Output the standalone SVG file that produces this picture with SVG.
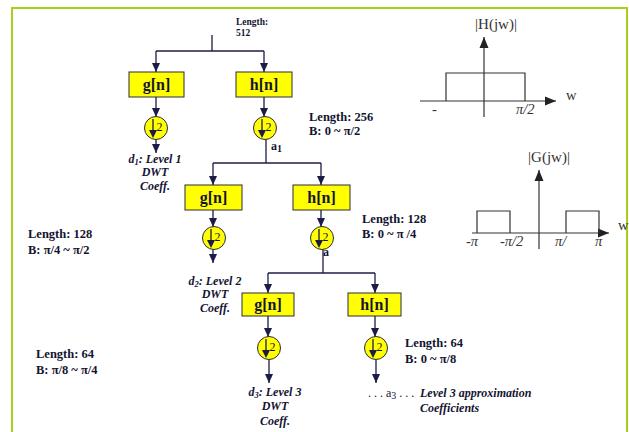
<svg xmlns="http://www.w3.org/2000/svg" width="629" height="432" viewBox="0 0 629 432">
<style>
.ln{stroke:#1c1c48;stroke-width:1.3;fill:none}
.ar{stroke:#1c1c48;stroke-width:1.3;fill:none;marker-end:url(#ah)}
.box{fill:#ffff00;stroke:#2a2a40;stroke-width:1}
.cir{fill:#ffff00;stroke:#2a2a40;stroke-width:1}
.bt{font-family:"Liberation Serif",serif;font-weight:bold;font-size:16px;fill:#141432;text-anchor:middle}
.two{font-family:"Liberation Serif",serif;font-size:12px;fill:#141432}
.lab{font-family:"Liberation Serif",serif;font-weight:bold;font-size:12.5px;fill:#141432}
.it{font-family:"Liberation Serif",serif;font-weight:bold;font-style:italic;font-size:12px;fill:#141432}
.g{font-family:"Liberation Serif",serif;font-size:14.5px;fill:#333}
.ax{stroke:#333;stroke-width:1.2;fill:none}
</style>
<defs>
<marker id="ah" markerUnits="userSpaceOnUse" markerWidth="10" markerHeight="10" viewBox="0 0 10 10" refX="9" refY="5" orient="auto">
<path d="M0,1 L9,5 L0,9 Z" fill="#1c1c48"/>
</marker>
<marker id="ax" markerUnits="userSpaceOnUse" markerWidth="12" markerHeight="10" viewBox="0 0 12 10" refX="11" refY="5" orient="auto">
<path d="M0,0.5 L11,5 L0,9.5 Z" fill="#222"/>
</marker>
<symbol id="ds" overflow="visible">
<circle class="cir" cx="0" cy="0" r="11.5"/>
<line class="ln" x1="-3" y1="-9" x2="-3" y2="3"/>
<path d="M-7,2 L1,2 L-3,10 Z" fill="#1c1c48"/>
<text class="two" x="0.5" y="3">2</text>
</symbol>
</defs>
<rect x="12" y="8" width="615" height="440" fill="none" stroke="#a8cf1e" stroke-width="2"/>

<g id="connectors">
<line class="ln" x1="212" y1="35" x2="212" y2="51"/>
<line class="ln" x1="156" y1="51" x2="264" y2="51"/>
<line class="ar" x1="156" y1="51" x2="156" y2="72"/>
<line class="ar" x1="264" y1="51" x2="264" y2="72"/>
<line class="ar" x1="156" y1="97" x2="156" y2="117"/>
<line class="ar" x1="264" y1="97" x2="264" y2="117"/>
<line class="ar" x1="156" y1="139" x2="156" y2="153"/>
<line class="ln" x1="266" y1="139" x2="266" y2="163"/>
<line class="ln" x1="213" y1="163" x2="321" y2="163"/>
<line class="ar" x1="213" y1="163" x2="213" y2="185"/>
<line class="ar" x1="321" y1="163" x2="321" y2="185"/>
<line class="ar" x1="213" y1="210" x2="213" y2="227"/>
<line class="ar" x1="321" y1="210" x2="321" y2="227"/>
<line class="ar" x1="213" y1="249" x2="213" y2="263"/>
<line class="ln" x1="323" y1="249" x2="323" y2="273"/>
<line class="ln" x1="268" y1="273" x2="375" y2="273"/>
<line class="ar" x1="268" y1="273" x2="268" y2="293"/>
<line class="ar" x1="375" y1="273" x2="375" y2="293"/>
<line class="ar" x1="268" y1="316" x2="268" y2="337"/>
<line class="ar" x1="375" y1="316" x2="375" y2="337"/>
<line class="ar" x1="269" y1="359" x2="269" y2="383"/>
<line class="ar" x1="376" y1="359" x2="376" y2="383"/>
</g>

<g id="g1"><rect class="box" x="129" y="72" width="55" height="25"/><text class="bt" x="156.5" y="90">g[n]</text></g>
<g id="h1"><rect class="box" x="236" y="72" width="56" height="25"/><text class="bt" x="264" y="90">h[n]</text></g>
<g id="dsg1"><use href="#ds" x="156" y="128"/></g>
<g id="dsh1"><use href="#ds" x="265" y="128"/></g>
<g id="g2"><rect class="box" x="185" y="185" width="57" height="25"/><text class="bt" x="213.5" y="203">g[n]</text></g>
<g id="h2"><rect class="box" x="293" y="185" width="57" height="25"/><text class="bt" x="321.5" y="203">h[n]</text></g>
<g id="dsg2"><use href="#ds" x="214" y="238"/></g>
<g id="dsh2"><use href="#ds" x="322" y="238"/></g>
<g id="g3"><rect class="box" x="242" y="293" width="52" height="23"/><text class="bt" x="268" y="310">g[n]</text></g>
<g id="h3"><rect class="box" x="348" y="293" width="53" height="23"/><text class="bt" x="374.5" y="310">h[n]</text></g>
<g id="dsg3"><use href="#ds" x="269" y="348"/></g>
<g id="dsh3"><use href="#ds" x="376" y="348"/></g>

<g id="labels">
<text class="lab" style="font-size:9.5px" x="236" y="25">Length:</text>
<text class="lab" style="font-size:9.5px" x="236" y="36">512</text>
<text class="lab" x="309" y="121">Length: 256</text>
<text class="lab" x="309" y="135">B: 0 ~ π/2</text>
<text class="lab" x="362" y="223">Length: 128</text>
<text class="lab" x="362" y="238">B: 0 ~ π /4</text>
<text class="lab" x="28" y="238">Length: 128</text>
<text class="lab" x="28" y="254">B: π/4 ~ π/2</text>
<text class="lab" x="36" y="358">Length: 64</text>
<text class="lab" x="36" y="374">B: π/8 ~ π/4</text>
<text class="lab" x="405" y="347">Length: 64</text>
<text class="lab" x="405" y="363">B: 0 ~ π/8</text>
<text class="two" style="font-weight:bold;font-size:12px" x="271" y="150">a<tspan font-size="10" dy="2">1</tspan></text>
<text class="two" style="font-weight:bold;font-size:12px" x="323" y="256">a</text>
<text class="two" x="368" y="397">. . . a<tspan font-size="10" dy="2">3</tspan><tspan dy="-2"> . . .</tspan></text>
<text class="it" text-anchor="middle" x="155" y="163">d<tspan font-size="8.5" dy="2">1</tspan><tspan dy="-2">: Level 1</tspan></text>
<text class="it" text-anchor="middle" x="155" y="176">DWT</text>
<text class="it" text-anchor="middle" x="155" y="190">Coeff.</text>
<text class="it" text-anchor="middle" x="215" y="285">d<tspan font-size="8.5" dy="2">2</tspan><tspan dy="-2">: Level 2</tspan></text>
<text class="it" text-anchor="middle" x="215" y="298">DWT</text>
<text class="it" text-anchor="middle" x="215" y="312">Coeff.</text>
<text class="it" text-anchor="middle" x="275" y="396">d<tspan font-size="8.5" dy="2">3</tspan><tspan dy="-2">: Level 3</tspan></text>
<text class="it" text-anchor="middle" x="275" y="410">DWT</text>
<text class="it" text-anchor="middle" x="275" y="425">Coeff.</text>
<text class="it" x="420" y="397">Level 3 approximation</text>
<text class="it" x="420" y="412">Coefficients</text>
</g>

<g id="Hgraph">
<text class="g" style="font-size:15px" x="496" y="29" text-anchor="middle">|H(jw)|</text>
<line class="ax" x1="484" y1="117" x2="484" y2="37" marker-end="url(#ax)"/>
<line class="ax" x1="420" y1="101" x2="556" y2="101" marker-end="url(#ax)"/>
<polyline class="ax" points="446,101 446,73 525,73 525,101"/>
<text class="g" x="432" y="114">-</text>
<text class="g" x="516" y="114" font-style="italic">π/2</text>
<text class="g" x="566" y="100">w</text>
</g>

<g id="Ggraph">
<text class="g" style="font-size:15px" x="549" y="162" text-anchor="middle">|G(jw)|</text>
<line class="ax" x1="539" y1="249" x2="539" y2="170" marker-end="url(#ax)"/>
<line class="ax" x1="472" y1="233" x2="609" y2="233" marker-end="url(#ax)"/>
<polyline class="ax" points="477,233 477,211 510,211 510,233"/>
<polyline class="ax" points="566,233 566,211 599,211 599,233"/>
<text class="g" x="466" y="246" font-style="italic">-π</text>
<text class="g" x="500" y="246" font-style="italic">-π/2</text>
<text class="g" x="555" y="246" font-style="italic">π/</text>
<text class="g" x="595" y="246" font-style="italic">π</text>
<text class="g" x="618" y="230">w</text>
</g>
</svg>
